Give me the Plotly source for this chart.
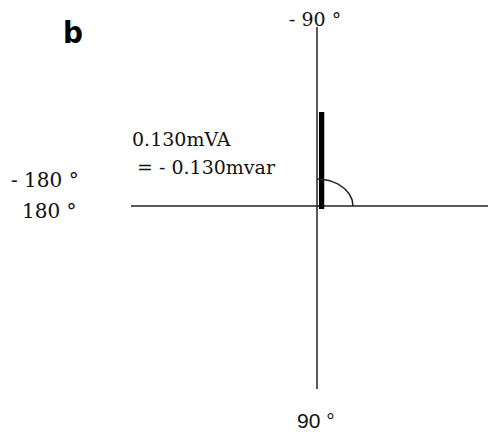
import numpy as np
import plotly.graph_objects as go

# ---- data ----
magnitude_mva = [0.130]          # apparent power magnitude (mVA)
angle_deg = [-90]                # phase angle (degrees)
value_labels = ["0.130mVA", "= - 0.130mvar"]
axis_labels_top = ["- 90 °"]
axis_labels_bottom = ["90 °"]
axis_labels_left = ["- 180 °", "180 °"]
panel_label = ["b"]

# ---- layout constants ----
W, H = 488, 432
CX, CY = 317, 206          # origin in pixels
S = 746.0                  # pixels per mVA

def ux(px):
    return (px - CX) / S

def uy(py):
    return (py - CY) / S

def px_(x):
    return x / W

def py_(y):
    return 1 - y / H

fig = go.Figure()

# axes lines
fig.add_trace(go.Scatter(x=[0, 0], y=[uy(27), uy(389)], mode="lines",
                         line=dict(color="#222", width=1.5), hoverinfo="skip"))
fig.add_trace(go.Scatter(x=[ux(131), ux(488)], y=[0, 0], mode="lines",
                         line=dict(color="#222", width=1.5), hoverinfo="skip"))

# phasor bar
off_x, off_y = 4.6 / S, 3.0 / S
for r, a in zip(magnitude_mva, angle_deg):
    th = np.deg2rad(a)
    fig.add_trace(go.Scatter(x=[off_x, off_x + r * np.cos(th)],
                             y=[off_y, off_y + r * np.sin(th)],
                             mode="lines", line=dict(color="black", width=5.3),
                             hoverinfo="skip"))
    # angle arc
    t = np.linspace(0, th, 60)
    rx, ry = 36 / S, 27 / S
    fig.add_trace(go.Scatter(x=rx * np.cos(t), y=ry * np.sin(t), mode="lines",
                             line=dict(color="#222", width=1.5), hoverinfo="skip"))

serif = "DejaVu Serif"
ann = []
ann.append(dict(text=value_labels[0], x=px_(131), y=py_(138.5), xanchor="left",
                yanchor="middle", font=dict(family=serif, size=19, color="#111")))
ann.append(dict(text=value_labels[1], x=px_(136), y=py_(167), xanchor="left",
                yanchor="middle", font=dict(family=serif, size=19, color="#111")))
ann.append(dict(text=axis_labels_top[0], x=px_(314.5), y=py_(18.5), xanchor="center",
                yanchor="middle", font=dict(family=serif, size=19, color="#111")))
ann.append(dict(text=axis_labels_left[0], x=px_(80), y=py_(180), xanchor="right",
                yanchor="middle", font=dict(family=serif, size=20, color="#111")))
ann.append(dict(text=axis_labels_left[1], x=px_(78), y=py_(211), xanchor="right",
                yanchor="middle", font=dict(family=serif, size=20, color="#111")))
ann.append(dict(text=axis_labels_bottom[0], x=px_(316), y=py_(420.5), xanchor="center",
                yanchor="middle", font=dict(family="Liberation Sans", size=21, color="#111")))
ann.append(dict(text="<b>" + panel_label[0] + "</b>", x=px_(73), y=py_(32), xanchor="center",
                yanchor="middle",
                font=dict(family="Liberation Sans Narrow, DejaVu Sans Condensed, Liberation Sans",
                          size=31, color="#000")))
for a in ann:
    a.update(xref="paper", yref="paper", showarrow=False, borderpad=0)

fig.update_layout(
    width=W, height=H, margin=dict(l=0, r=0, t=0, b=0),
    paper_bgcolor="white", plot_bgcolor="white", showlegend=False,
    annotations=ann,
    xaxis=dict(range=[ux(0), ux(W)], visible=False, fixedrange=True),
    yaxis=dict(range=[uy(H), uy(0)], visible=False, fixedrange=True),
)

fig.write_html("out.html", config={"displayModeBar": False},
               post_script="document.body.style.margin='0';document.body.style.overflow='hidden';")
